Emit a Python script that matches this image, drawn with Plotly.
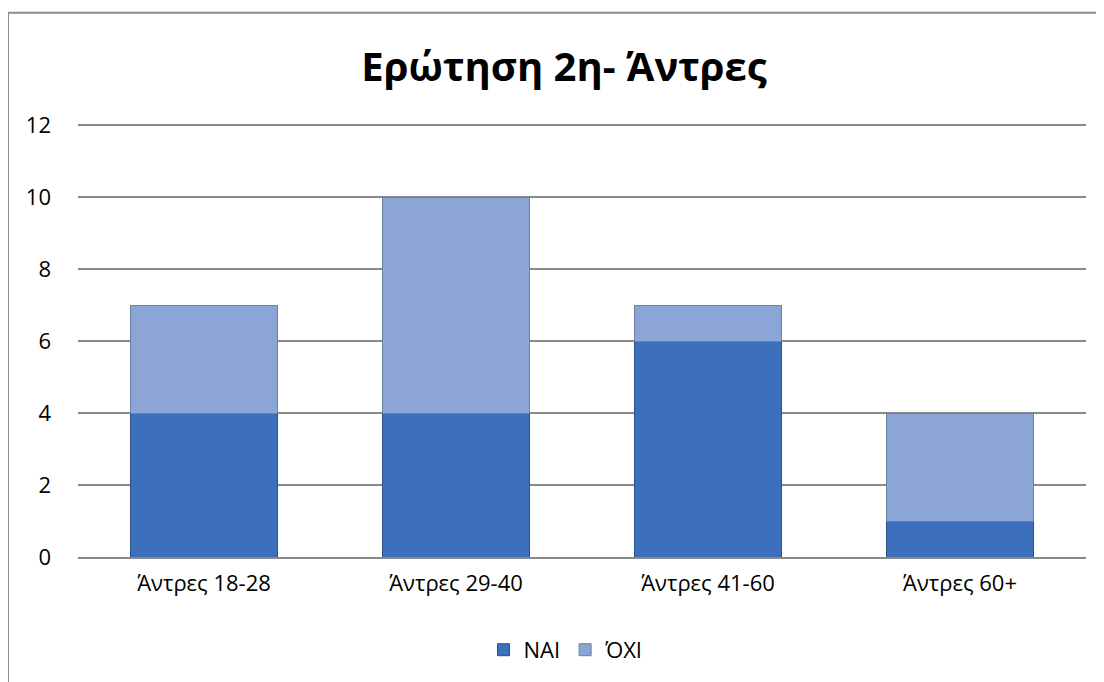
import plotly.graph_objects as go

categories = ["Άντρες 18-28", "Άντρες 29-40", "Άντρες 41-60", "Άντρες 60+"]
nai = [4, 4, 6, 1]
oxi = [3, 6, 1, 3]

fig = go.Figure()
fig.add_trace(go.Bar(x=categories, y=nai, name="ΝΑΙ",
                     marker=dict(color="#3c70bd", line=dict(color="#2c4f86", width=1))))
fig.add_trace(go.Bar(x=categories, y=oxi, name="ΌΧΙ",
                     marker=dict(color="#8ba6d6", line=dict(color="#6b7fa0", width=1))))

# page body adds an 8px offset; target pixel coords are reduced by it
OFF = 8
W, H = 1104 - OFF, 682 - OFF
YMAX = 12.15
zero_px, twelve_px = 558, 125
unit = (zero_px - twelve_px) / 12.0
top_px = zero_px - YMAX * unit
l, t = 78 - OFF, top_px - OFF
right_px, bottom_px = 1086 - OFF, zero_px - OFF
r, b = W - right_px, H - bottom_px
pw, ph = W - l - r, H - t - b

def px(x):
    return (x - OFF - l) / pw

def py(y):
    return (bottom_px - (y - OFF)) / ph

fig.update_layout(
    width=W, height=H,
    margin=dict(l=l, r=r, t=t, b=b),
    barmode="stack",
    bargap=0.42,
    paper_bgcolor="white",
    plot_bgcolor="white",
    font=dict(family="Open Sans, Noto Sans, sans-serif", size=22, color="#000000"),
    title=dict(text="<b>Ερώτηση 2η- Άντρες</b>", x=px(564), xanchor="center", xref="paper",
               y=1 - (67 - OFF) / H, yanchor="middle", yref="container",
               font=dict(size=40, color="#000000")),
    legend=dict(orientation="h", x=px(566), xanchor="center", y=py(650), yanchor="middle",
                font=dict(size=22), itemwidth=30, traceorder="normal"),
    xaxis=dict(showline=True, linecolor="#898989", linewidth=2, ticks="",
               showgrid=False, tickfont=dict(size=22), ticklabelstandoff=6),
    yaxis=dict(range=[0, YMAX], tickvals=[0, 2, 4, 6, 8, 10, 12], showgrid=True,
               gridcolor="#898989", gridwidth=1.5,
               zeroline=False, showline=False, ticks="", tickfont=dict(size=22),
               ticklabelstandoff=26),
    shapes=[dict(type="rect", xref="paper", yref="paper",
                 x0=px(8), x1=px(1115), y0=py(695), y1=py(12),
                 line=dict(color="#8c8c8c", width=2), fillcolor="rgba(0,0,0,0)", layer="below")],
)

fig.write_html("out.html")
